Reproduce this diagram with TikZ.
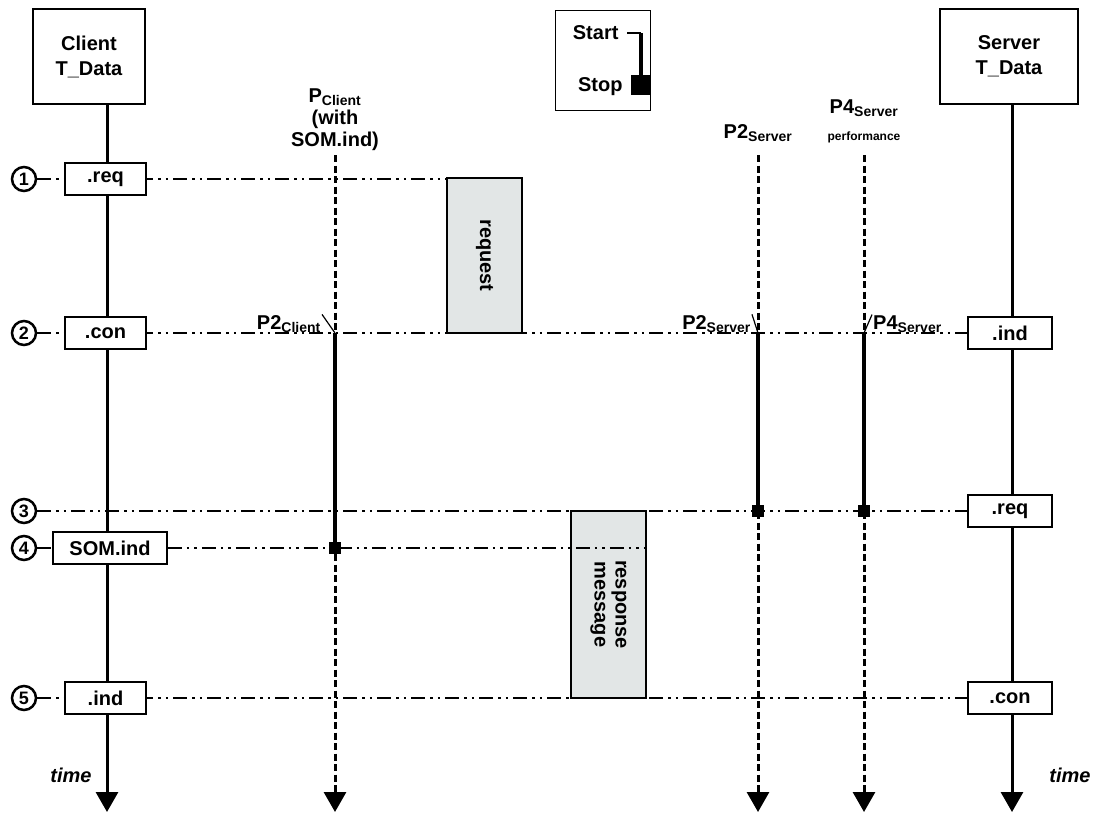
\documentclass[tikz,border=0pt]{standalone}
\usepackage{fontspec}
\setmainfont{Liberation Sans}
\usetikzlibrary{positioning,arrows.meta,backgrounds}
\definecolor{phasegray}{RGB}{226,230,230}

\begin{document}
\begin{tikzpicture}[x=1pt, y=1pt,
    font=\fontsize{20}{22}\selectfont\bfseries,
    lifeline/.style={line width=3pt},
    probe/.style={line width=3pt, dash pattern=on 7pt off 3.5pt},
    active/.style={line width=4pt},
    timearrow/.style={-{Triangle[width=22pt,length=20pt]}},
    msg/.style={line width=1.6pt, dash pattern=on 14pt off 5pt on 2.5pt off 5pt on 2.5pt off 5pt},
    head/.style={rectangle, draw, line width=1.5pt, fill=white, minimum height=95pt, align=center, font=\fontsize{20}{25}\selectfont\bfseries},
    prim/.style={rectangle, draw, line width=1.6pt, fill=white, minimum height=32pt, inner sep=0pt},
    phase/.style={rectangle, draw, line width=2.5pt, fill=phasegray, minimum width=75pt, inner sep=0pt},
    stepnum/.style={circle, draw, line width=2.5pt, minimum size=24pt, inner sep=0pt, font=\fontsize{18}{18}\selectfont\bfseries},
    stopmark/.style={rectangle, fill=black, minimum size=12pt, inner sep=0pt},
    tick/.style={line width=1.2pt}
  ]
    \useasboundingbox (0,0) rectangle (1097,-812);

    % headers
    \node[head, minimum width=112pt] at (89, -56.5)   (client) {Client\\T\_Data};
    \node[head, minimum width=138pt] at (1009, -56.5) (server) {Server\\T\_Data};
    \node[align=center] at (335, -120) (pclhead) {P\textsubscript{Client}\\(with\\SOM.ind)};
    \node at (758, -133) (p2shead) {P2\textsubscript{Server}};
    \node[align=center] at (864, -121) (p4shead) {P4\textsubscript{Server}\\[5pt]{\fontsize{12}{13}\selectfont performance}};

    % legend
    \node[rectangle, draw, line width=1pt, minimum width=95pt, minimum height=100pt] at (603, -60) (legend) {};
    \node[anchor=east] at (622, -33) (start) {Start};
    \node[anchor=east] at (626, -87) (stop) {Stop};
    \draw[tick] (627, -33) -- (641, -33);
    \draw[active] (641, -33) -- (641, -80);
    \node[stopmark, minimum size=20pt] at (641, -85) (legendstop) {};

    % step numbers
    \node[stepnum] at (24, -179) (c1) {1};
    \node[stepnum] at (24, -333) (c2) {2};
    \node[stepnum] at (24, -511) (c3) {3};
    \node[stepnum] at (24, -548) (c4) {4};
    \node[stepnum] at (24, -698) (c5) {5};

    % primitives
    \node[prim, minimum width=81pt]  at (105.5, -179) (creq) {.req};
    \node[prim, minimum width=81pt]  at (105.5, -333) (ccon) {.con};
    \node[prim, minimum width=114pt] at (110, -548)   (csom) {SOM.ind};
    \node[prim, minimum width=81pt]  at (105.5, -698) (cind) {.ind};
    \node[prim, minimum width=84pt]  at (1010, -333)  (sind) {.ind};
    \node[prim, minimum width=84pt]  at (1010, -511)  (sreq) {.req};
    \node[prim, minimum width=84pt]  at (1010, -698)  (scon) {.con};

    % phases
    \node[phase, minimum height=155pt] at (484.5, -255.5) (reqphase) {};
    \node[rotate=-90] at (reqphase) (reqtext) {request};
    \node[phase, minimum height=187pt] at (608.5, -604.5) (respphase) {};
    \node[rotate=-90, align=center, font=\fontsize{20}{21}\selectfont\bfseries] at (respphase) (resptext) {response\\message};

    % probe points
    \coordinate (pcl)  at (335, -155);
    \coordinate (p2s)  at (758, -155);
    \coordinate (p4s)  at (864, -155);
    \coordinate (pcl2) at (335, -333);
    \coordinate (pcl4) at (335, -548);
    \coordinate (p2s2) at (758, -333);
    \coordinate (p2s3) at (758, -511);
    \coordinate (p4s2) at (864, -333);
    \coordinate (p4s3) at (864, -511);
    \coordinate (clientend) at (107, -812);
    \coordinate (serverend) at (1012, -812);
    \coordinate (pclend) at (335, -812);
    \coordinate (p2send) at (758, -812);
    \coordinate (p4send) at (864, -812);

    \begin{scope}[on background layer]
      \draw[lifeline, timearrow] (client.south -| clientend) -- (clientend);
      \draw[lifeline, timearrow] (server.south -| serverend) -- (serverend);
      \draw[probe, timearrow] (pcl) -- (pclend);
      \draw[probe, timearrow] (p2s) -- (p2send);
      \draw[probe, timearrow] (p4s) -- (p4send);

      \draw[msg] (c1.east) -- (c1.east -| reqphase.west);
      \draw[msg] (c2.east) -- (sind.west);
      \draw[msg] (c3.east) -- (sreq.west);
      \draw[msg] (c5.east) -- (scon.west);
      \draw[msg] (c4.east) -- (csom.west);
    \end{scope}
    \draw[msg] (csom.east) -- (csom.east -| respphase.east);

    % measurement intervals
    \draw[active] (pcl2) -- (pcl4);
    \draw[active] (p2s2) -- (p2s3);
    \draw[active] (p4s2) -- (p4s3);
    \node[stopmark] at (pcl4) (pclstop) {};
    \node[stopmark] at (p2s3) (p2sstop) {};
    \node[stopmark] at (p4s3) (p4sstop) {};

    \node[anchor=south east, inner sep=1pt] at (322, -334) (p2cl) {P2\textsubscript{Client}};
    \node[anchor=south east, inner sep=1pt] at (752, -334) (p2sv) {P2\textsubscript{Server}};
    \node[anchor=south west, inner sep=1pt] at (872, -334) (p4sv) {P4\textsubscript{Server}};
    \draw[tick] (p2cl.north east) -- (pcl2);
    \draw[tick] (p2sv.north east) -- (p2s2);
    \draw[tick] (p4sv.north west) -- (p4s2);

    \node[font=\fontsize{20}{22}\selectfont\bfseries\itshape] at (71, -775) (tleft) {time};
    \node[font=\fontsize{20}{22}\selectfont\bfseries\itshape] at (1070, -775) (tright) {time};
  \end{tikzpicture}
\end{document}
